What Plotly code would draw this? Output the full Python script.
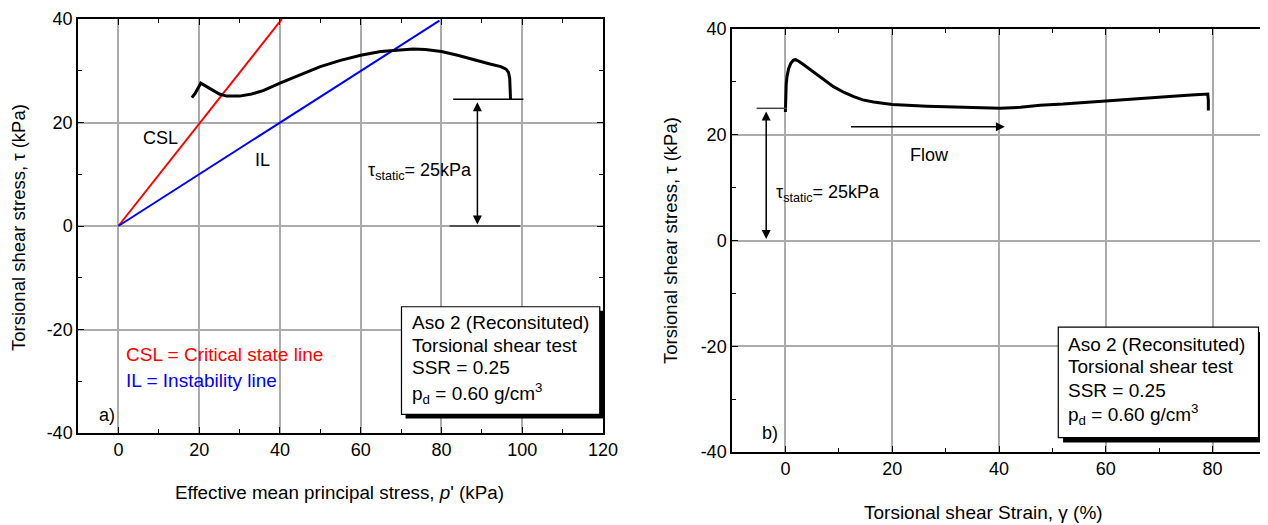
import plotly.graph_objects as go

# ---------------- data ----------------
# Panel a) stress path
p_eff = [18.2, 19.0, 20.4, 22.0, 23.5, 25.0, 26.8, 30.0, 33.0, 36.0, 40.0, 45.0, 50.0, 55.0,
         60.0, 65.0, 70.0, 73.0, 76.0, 80.0, 84.0, 88.0, 92.0, 94.7, 96.0, 96.6, 96.9, 97.0, 97.1]
tau_a = [24.8, 25.6, 27.6, 26.9, 26.2, 25.5, 25.1, 25.1, 25.5, 26.2, 27.6, 29.2, 30.8, 32.0,
         33.0, 33.7, 34.1, 34.2, 34.1, 33.7, 33.0, 32.1, 31.3, 30.8, 30.3, 29.7, 28.5, 26.5, 24.5]
csl_p = [0.0, 40.5]
csl_tau = [0.0, 40.0]
il_p = [0.0, 79.5]
il_tau = [0.0, 39.7]

# Panel b) stress-strain
gamma = [0.0, 0.05, 0.15, 0.3, 0.6, 1.0, 1.5, 1.9, 2.5, 3.5, 5.3, 7.0, 9.0, 11.0, 12.8, 14.5,
         16.5, 20.0, 23.0, 26.5, 30.0, 32.7, 36.0, 40.2, 44.0, 47.7, 52.0, 56.0, 60.1, 64.0,
         68.0, 72.6, 76.0, 79.1, 79.2, 79.2]
tau_b = [24.3, 27.0, 29.5, 31.0, 32.5, 33.5, 34.1, 34.2, 33.9, 33.2, 31.9, 30.5, 29.1, 28.0,
         27.2, 26.6, 26.2, 25.7, 25.5, 25.4, 25.3, 25.2, 25.1, 25.0, 25.2, 25.6, 25.8, 26.1,
         26.5, 26.8, 27.0, 27.3, 27.5, 27.7, 26.5, 24.6]

tau_static = 25

# tick labels
y_ticks = [-40, -20, 0, 20, 40]
y_ticktext = ["-40", "-20", "0", "20", "40"]
xa_ticks = [0, 20, 40, 60, 80, 100, 120]
xa_ticktext = ["0", "20", "40", "60", "80", "100", "120"]
xb_ticks = [0, 20, 40, 60, 80]
xb_ticktext = ["0", "20", "40", "60", "80"]

box_lines = ["Aso 2 (Reconsituted)", "Torsional shear test", "SSR = 0.25",
             "p<sub>d</sub> = 0.60 g/cm<sup>3</sup>"]

FONT = "Liberation Sans, Arial, sans-serif"
FS = 18
FB = 19  # box / legend text
W, H = 1268, 525
OFF = 8  # page offset of the figure in the browser


def fx(s):
    return (s - OFF) / W


def fy(s):
    return 1 - (s - OFF) / H


fig = go.Figure()
fig.add_trace(go.Scatter(x=csl_p, y=csl_tau, mode="lines", line=dict(color="#ff0000", width=2),
                         xaxis="x", yaxis="y", showlegend=False))
fig.add_trace(go.Scatter(x=il_p, y=il_tau, mode="lines", line=dict(color="#0000ff", width=2),
                         xaxis="x", yaxis="y", showlegend=False))
fig.add_trace(go.Scatter(x=p_eff, y=tau_a, mode="lines", line=dict(color="black", width=3),
                         xaxis="x", yaxis="y", showlegend=False))
fig.add_trace(go.Scatter(x=gamma, y=tau_b, mode="lines", line=dict(color="black", width=3),
                         xaxis="x2", yaxis="y2", showlegend=False))


def axis_common(vals, txt):
    return dict(showline=True, linecolor="black", linewidth=1.5, mirror="allticks",
                ticks="inside", ticklen=6, tickwidth=1.2, tickcolor="black",
                tickmode="array", tickvals=vals, ticktext=txt,
                showgrid=True, gridcolor="#ababab", gridwidth=1.5, zeroline=False,
                tickfont=dict(family=FONT, size=FS, color="black"), automargin=False,
                minor=dict(ticks="inside", ticklen=4, tickcolor="black", showgrid=False,
                           tickmode="linear", dtick=10, tick0=0),
                fixedrange=True)


xa = axis_common(xa_ticks, xa_ticktext); xa.update(range=[-10, 120], domain=[fx(78), fx(603)], anchor="y")
ya = axis_common(y_ticks, y_ticktext); ya.update(range=[-40, 40], domain=[fy(433), fy(19)], anchor="x")
xb = axis_common(xb_ticks, xb_ticktext); xb.update(range=[-10, 90], domain=[fx(732), fx(1266)], anchor="y2")
yb = axis_common(y_ticks, y_ticktext); yb.update(range=[-40, 40], domain=[fy(452), fy(29)], anchor="x2")

shapes = []
annotations = []


def line(x0, y0, x1, y1, xr, yr, color="black", width=1.5):
    shapes.append(dict(type="line", x0=x0, y0=y0, x1=x1, y1=y1, xref=xr, yref=yr,
                       line=dict(color=color, width=width)))


def text(x, y, s, xr, yr, color="black", xanchor="left", size=FS, **kw):
    annotations.append(dict(x=x, y=y, text=s, xref=xr, yref=yr, showarrow=False,
                            xanchor=xanchor, yanchor="middle",
                            font=dict(family=FONT, size=size, color=color), **kw))


def arrow(x, y, ax, ay, xr, yr, both=False):
    annotations.append(dict(x=x, y=y, ax=ax, ay=ay, xref=xr, yref=yr, axref=xr, ayref=yr,
                            showarrow=True, arrowhead=2, arrowsize=1.2, arrowwidth=1.5,
                            arrowcolor="black", text="",
                            arrowside="end+start" if both else "end"))


# ---- panel a annotations ----
line(82.9, 24.5, 100.3, 24.5, "x", "y")
line(82.0, 0, 99.5, 0, "x", "y", color="#333333")
arrow(88.9, 0.3, 88.9, 24.2, "x", "y", both=True)
text(61.2, 10.6, "τ<sub>static</sub>= 25kPa", "x", "y")
text(10.5, 17.0, "CSL", "x", "y", xanchor="center")
text(35.6, 12.7, "IL", "x", "y", xanchor="center")
text(1.3, -24.8, "CSL = Critical state line", "x", "y", color="#ff0000", size=FB)
text(1.3, -29.9, "IL = Instability line", "x", "y", color="#0000ff", size=FB)
text(-2.8, -36.5, "a)", "x", "y", xanchor="center")

# box a
shapes.append(dict(type="rect", x0=71.1, x1=120.2, y0=-37.2, y1=-16.4, xref="x", yref="y",
                   fillcolor="black", line=dict(width=0)))
shapes.append(dict(type="rect", x0=70.1, x1=119.2, y0=-36.4, y1=-15.6, xref="x", yref="y",
                   fillcolor="white", line=dict(color="black", width=1.2)))
for s, yy in zip(box_lines, [-18.6, -23.0, -27.4, -32.4]):
    text(72.1, yy, s, "x", "y", size=FB)

# ---- panel b annotations ----
line(-5.4, tau_static, 0.3, tau_static, "x2", "y2", color="#444444")
arrow(-3.6, 0.3, -3.6, 24.7, "x2", "y2", both=True)
arrow(41.1, 21.5, 12.0, 21.5, "x2", "y2")
text(26.9, 16.1, "Flow", "x2", "y2", xanchor="center")
text(-2.2, 8.85, "τ<sub>static</sub>= 25kPa", "x2", "y2")
text(-2.8, -36.5, "b)", "x2", "y2", xanchor="center")

shapes.append(dict(type="rect", x0=52.0, x1=89.5, y0=-38.2, y1=-17.3, xref="x2", yref="y2",
                   fillcolor="black", line=dict(width=0)))
shapes.append(dict(type="rect", x0=51.1, x1=88.6, y0=-37.3, y1=-16.4, xref="x2", yref="y2",
                   fillcolor="white", line=dict(color="black", width=1.2)))
for s, yy in zip(box_lines, [-19.6, -23.9, -28.4, -33.0]):
    text(52.6, yy, s, "x2", "y2", size=FB)

# ---- axis titles ----
text(fx(18), fy(228), "Torsional shear stress, τ (kPa)", "paper", "paper", xanchor="center", textangle=-90, size=18.5)
text(fx(670), fy(241), "Torsional shear stress, τ (kPa)", "paper", "paper", xanchor="center", textangle=-90, size=18.5)
text(fx(339), fy(492), "Effective mean principal stress, <i>p</i>' (kPa)", "paper", "paper", xanchor="center", size=18.8)
text(fx(983), fy(512), "Torsional shear Strain, γ (%)", "paper", "paper", xanchor="center", size=19)

fig.update_layout(width=W, height=H, margin=dict(l=0, r=0, t=0, b=0, autoexpand=False),
                  paper_bgcolor="white", plot_bgcolor="white",
                  xaxis=xa, yaxis=ya, xaxis2=xb, yaxis2=yb,
                  shapes=shapes, annotations=annotations, showlegend=False,
                  font=dict(family=FONT, size=FS, color="black"))

fig.write_html("out.html")
